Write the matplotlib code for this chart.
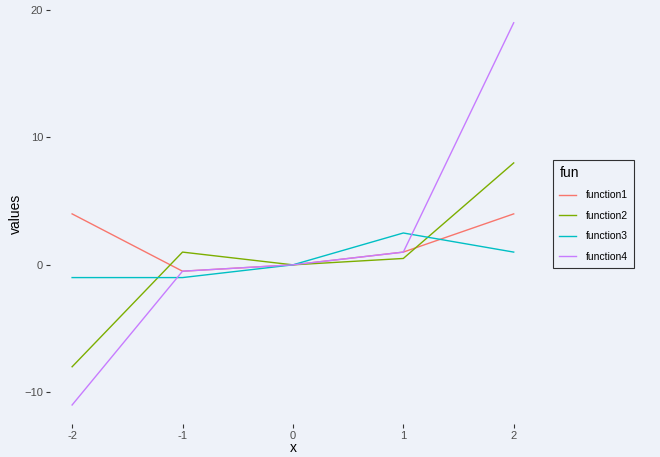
import matplotlib.pyplot as plt
import numpy as np

plt.rcParams["font.family"] = ["Liberation Sans", "DejaVu Sans"]

BG = "#EEF2F9"

x = [-2, -1, 0, 1, 2]
function1 = [4, -0.5, 0, 1, 4]
function2 = [-8, 1, 0, 0.5, 8]
function3 = [-1, -1, 0, 2.5, 1]
function4 = [-11, -0.5, 0, 1, 19]

series = {
    "function1": function1,
    "function2": function2,
    "function3": function3,
    "function4": function4,
}
colors = ["#F8766D", "#7CAE00", "#00BFC4", "#C77CFF"]

fig = plt.figure(figsize=(6.6, 4.57), dpi=100, facecolor=BG)
ax = fig.add_axes([0.0758, 0.072, 0.736, 0.92], facecolor=BG)

for (name, vals), c in zip(series.items(), colors):
    ax.plot(x, vals, color=c, lw=1.0, label=name)

ax.set_xlim(-2.2, 2.2)
ax.set_ylim(-12.5, 20.5)
ax.set_xticks(x)
ax.set_xticklabels([str(v) for v in x])
ax.set_yticks([-10, 0, 10, 20])
for s in ax.spines.values():
    s.set_visible(False)
ax.tick_params(colors="#333333", labelcolor="#4D4D4D", labelsize=8, length=3,
               width=0.8, pad=2)
ax.set_xlabel("x", fontsize=10, labelpad=0)
ax.set_ylabel("values", fontsize=10, labelpad=1)

leg = ax.legend(title="fun", loc="center left", bbox_to_anchor=(1.025, 0.5),
                frameon=True, fancybox=False, fontsize=7.5, title_fontsize=10,
                handlelength=1.6, handletextpad=0.9, labelspacing=1.0,
                borderpad=0.6)
leg.get_frame().set_edgecolor("black")
leg.get_frame().set_facecolor(BG)
leg.get_frame().set_linewidth(0.8)
leg._legend_box.align = "left"

fig.savefig("out.png", facecolor=BG)
